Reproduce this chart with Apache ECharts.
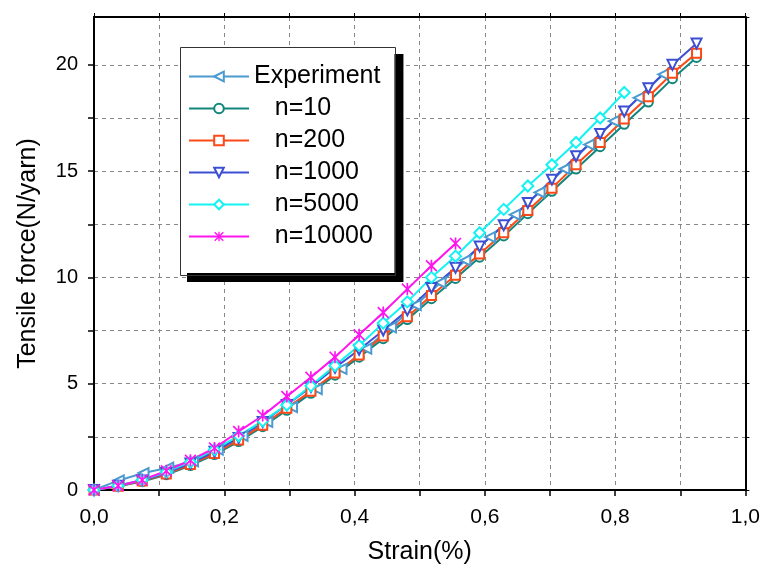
<!DOCTYPE html>
<html>
<head>
<meta charset="utf-8">
<script src="https://cdn.jsdelivr.net/npm/echarts@6/dist/echarts.min.js"></script>
<style>
  html, body { margin: 0; padding: 0; background: #fff; }
  #chart { width: 763px; height: 572px; }
</style>
</head>
<body>
<div id="chart"></div>
<script>
// strain values (%)
var strainSim = [0, 0.037, 0.074, 0.111, 0.148, 0.185, 0.222, 0.259, 0.296, 0.333, 0.370, 0.407, 0.444,
  0.481, 0.518, 0.555, 0.592, 0.629, 0.666, 0.703, 0.740, 0.777, 0.814, 0.851, 0.888, 0.925];
var strainExp = [0, 0.038, 0.076, 0.114, 0.152, 0.190, 0.228, 0.266, 0.304, 0.342, 0.380, 0.418,
  0.456, 0.494, 0.532, 0.570, 0.608, 0.646, 0.684, 0.722, 0.760, 0.798, 0.836, 0.874];

// tensile force (N/yarn)
var experiment = [0, 0.45, 0.8, 1.05, 1.35, 1.9, 2.55, 3.2, 3.9, 4.75, 5.7, 6.65, 7.65, 8.7, 9.75,
  10.8, 11.9, 12.95, 14.0, 15.1, 16.25, 17.35, 18.45, 19.55];
var n10 = [0, 0.17, 0.4, 0.72, 1.15, 1.67, 2.28, 2.98, 3.75, 4.55, 5.4, 6.25, 7.12, 8.02, 9.0, 9.95,
  10.95, 11.95, 13.0, 14.05, 15.1, 16.15, 17.2, 18.25, 19.35, 20.35];
var n200 = [0, 0.18, 0.42, 0.75, 1.2, 1.72, 2.35, 3.05, 3.85, 4.65, 5.5, 6.35, 7.25, 8.15, 9.15, 10.1,
  11.1, 12.1, 13.15, 14.2, 15.3, 16.35, 17.45, 18.5, 19.6, 20.55];
var n1000 = [0, 0.2, 0.45, 0.8, 1.25, 1.8, 2.45, 3.2, 4.0, 4.85, 5.75, 6.6, 7.5, 8.45, 9.5, 10.45,
  11.45, 12.45, 13.5, 14.6, 15.7, 16.75, 17.8, 18.9, 20.0, 21.0];
var n5000 = [0, 0.2, 0.47, 0.85, 1.32, 1.9, 2.55, 3.25, 4.0, 4.9, 5.85, 6.8, 7.85, 8.85, 10.0, 11.0,
  12.1, 13.2, 14.3, 15.3, 16.35, 17.5, 18.7];
var n10000 = [0, 0.2, 0.47, 0.9, 1.4, 1.97, 2.75, 3.5, 4.4, 5.3, 6.25, 7.3, 8.35, 9.45, 10.55, 11.6];

var seriesNames = ['Experiment', 'n=10', 'n=200', 'n=1000', 'n=5000', 'n=10000'];

function pairs(xs, ys) {
  return ys.map(function (y, i) { return [xs[i], y]; });
}

var starPath = 'path://M1,0L5,4L9,0L10,1L6,5L10,9L9,10L5,6L1,10L0,9L4,5L0,1Z' +
  'M4.3,0L5.7,0L5.7,10L4.3,10Z';

function makeLine(name, data, color, symbol, size, filled, rotate) {
  return {
    name: name,
    type: 'line',
    data: data,
    symbol: symbol,
    symbolSize: size,
    symbolRotate: rotate || 0,
    showAllSymbol: true,
    lineStyle: { color: color, width: 2 },
    itemStyle: {
      color: filled ? color : '#fff',
      borderColor: color,
      borderWidth: filled ? 0 : 2
    },
    emphasis: { disabled: true },
    animation: false
  };
}

var chart = echarts.init(document.getElementById('chart'));

var fontName = 'Liberation Sans, Arial, sans-serif';

chart.setOption({
  backgroundColor: '#fff',
  textStyle: { fontFamily: fontName },
  grid: { left: 94, right: 14, top: 17, bottom: 82, containLabel: false },
  legend: {
    orient: 'vertical',
    left: 178,
    top: 45,
    data: seriesNames,
    itemWidth: 60,
    itemHeight: 12,
    itemGap: 7,
    padding: [19, 14, 24, 10],
    backgroundColor: '#fff',
    borderWidth: 0,
    shadowColor: '#000',
    shadowBlur: 0,
    shadowOffsetX: 9,
    shadowOffsetY: 9,
    textStyle: { fontSize: 25, color: '#000', fontFamily: fontName },
    formatter: function (name) {
      return name === 'Experiment' ? name : '   ' + name;
    }
  },
  // thin outline of the legend box (kept separate so its shadow does not cross the box)
  graphic: [{
    type: 'rect',
    left: 178,
    top: 45,
    z: 100,
    silent: true,
    shape: { width: 215, height: 228 },
    style: { fill: null, stroke: '#333', lineWidth: 1 }
  }],
  xAxis: [{
    type: 'value',
    min: 0,
    max: 1,
    interval: 0.1,
    name: 'Strain(%)',
    nameLocation: 'middle',
    nameGap: 50,
    nameTextStyle: { fontSize: 25, color: '#000' },
    axisLine: { onZero: false, lineStyle: { color: '#000', width: 2 } },
    axisTick: { length: 6, lineStyle: { color: '#000', width: 1.5 } },
    axisLabel: {
      margin: 17,
      fontFamily: fontName, fontSize: 21, color: '#000',
      formatter: function (v) {
        var k = Math.round(v * 10);
        return k % 2 === 0 ? (k / 10).toFixed(1).replace('.', ',') : '';
      }
    },
    splitLine: { show: true, lineStyle: { color: '#888', type: [4, 4], width: 1 } }
  }, {
    type: 'value',
    position: 'top',
    min: 0,
    max: 1,
    interval: 0.1,
    axisLine: { onZero: false, lineStyle: { color: '#000', width: 2 } },
    axisTick: { length: 4, lineStyle: { color: '#000', width: 1 } },
    axisLabel: { show: false },
    splitLine: { show: false }
  }],
  yAxis: [{
    type: 'value',
    min: 0,
    max: 22.25,
    interval: 2.5,
    name: 'Tensile force(N/yarn)',
    nameLocation: 'middle',
    nameGap: 53,
    nameTextStyle: { fontSize: 25, color: '#000' },
    axisLine: { onZero: false, lineStyle: { color: '#000', width: 2 } },
    axisTick: { length: 6, lineStyle: { color: '#000', width: 1.5 } },
    axisLabel: {
      margin: 16,
      showMaxLabel: false,
      fontFamily: fontName, fontSize: 20, color: '#000',
      formatter: function (v) {
        var k = Math.round(v * 2);
        return k % 10 === 0 ? String(k / 2) : '';
      }
    },
    splitLine: { show: true, lineStyle: { color: '#888', type: [4, 4], width: 1 } }
  }, {
    type: 'value',
    position: 'right',
    min: 0,
    max: 22.25,
    interval: 2.5,
    axisLine: { show: true, onZero: false, lineStyle: { color: '#000', width: 2 } },
    axisTick: { show: true, length: 4, lineStyle: { color: '#000', width: 1 } },
    axisLabel: { show: false },
    splitLine: { show: false }
  }],
  series: [
    makeLine('Experiment', pairs(strainExp, experiment), '#4b9ad0', 'triangle', 10, false, 90),
    makeLine('n=10', pairs(strainSim, n10), '#13867c', 'circle', 9, false),
    makeLine('n=200', pairs(strainSim, n200), '#fb4a18', 'rect', 9, false),
    makeLine('n=1000', pairs(strainSim, n1000), '#3c4fd2', 'triangle', 10, false, 180),
    makeLine('n=5000', pairs(strainSim, n5000), '#14f2f2', 'diamond', 11, false),
    makeLine('n=10000', pairs(strainSim.slice(0, n10000.length), n10000), '#ff14f0', starPath, 12, true)
  ]
});
</script>
</body>
</html>
